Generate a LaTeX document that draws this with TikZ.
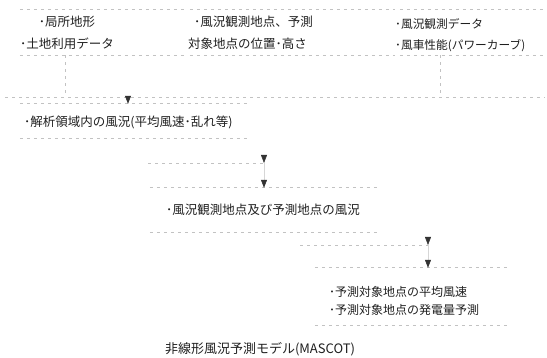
\documentclass[tikz,border=0pt]{standalone}
\usepackage{fontspec}
\newfontfamily\jp{Noto Sans CJK JP}
\usetikzlibrary{arrows.meta}
\begin{document}
\begin{tikzpicture}[x=1pt,y=-1pt,
 faint/.style={draw=black!24, dash pattern=on 3pt off 4pt, line width=0.6pt},
 tipline/.style={-{Triangle[width=6pt,length=8pt,color=black!80]}, draw=black!16, line width=0.5pt},
 lbl/.style={font=\jp\fontsize{12.5}{22}\selectfont, text=black!88, inner sep=0pt},
 frame/.style={draw=none, inner sep=0pt}]
\useasboundingbox (0,0) rectangle (547,358);

% boxes
\node[frame, minimum width=165pt, minimum height=45pt] (A) at (102.5,32.5) {};
\node[frame, minimum width=205pt, minimum height=45pt] (B) at (292.5,32.5) {};
\node[frame, minimum width=145pt, minimum height=45pt] (C) at (472.5,32.5) {};
\node[frame, minimum width=230pt, minimum height=34pt] (b1) at (135,121) {};
\node[frame, minimum width=230pt, minimum height=44pt] (b2) at (265,210) {};
\node[frame, minimum width=195pt, minimum height=57pt] (b3) at (412.5,296.5) {};
\foreach \b in {A,B,C,b1,b2,b3} {
  \draw[faint] (\b.north west) -- (\b.north east);
  \draw[faint] (\b.south west) -- (\b.south east);
}

% texts
\node[lbl, align=center] (tA) at (67,33) {･局所地形\\･土地利用データ};
\node[lbl, align=left, anchor=west] (tB) at (188,33) {\hspace{6pt}･風況観測地点、予測\\対象地点の位置･高さ};
\node[lbl, align=left, anchor=west, font=\jp\fontsize{11.7}{21}\selectfont] (tC) at (395,35) {･風況観測データ\\･風車性能(パワーカーブ)};
\node[lbl, anchor=west] (t1) at (24,122) {･解析領域内の風況(平均風速･乱れ等)};
\node[lbl, anchor=west] (t2) at (166,210) {･風況観測地点及び予測地点の風況};
\node[lbl, align=left, anchor=west, font=\jp\fontsize{12}{18}\selectfont] (t3) at (329,301) {･予測対象地点の平均風速\\･予測対象地点の発電量予測};
\node[lbl, font=\jp\fontsize{13}{15}\selectfont] (title) at (260,349) {非線形風況予測モデル(MASCOT)};

% merge line and connectors
\coordinate (m1) at (5,97);
\coordinate (m2) at (545,97);
\draw[faint] (m1) -- (m2);
\draw[faint] ([xshift=-37.5pt]A.south) -- ([xshift=-37.5pt]A.south |- m1);
\draw[faint] ([xshift=-32.5pt]C.south) -- ([xshift=-32.5pt]C.south |- m1);
\draw[tipline] ([xshift=-7pt]b1.north |- m1) -- ([xshift=-7pt]b1.north);

% box1 -> box2
\coordinate (j1) at (148,163);
\coordinate (j2) at (264,163);
\coordinate (j2t) at (264,155);
\draw[faint] (j1) -- (j2);
\draw[tipline] (j2t) -- (j2);
\draw[tipline] (j2) -- (b2.north -| j2);

% box2 -> box3
\coordinate (k1) at (300,245);
\coordinate (k2) at (428,245);
\coordinate (k2t) at (428,237);
\draw[faint] (k1) -- (k2);
\draw[tipline] (k2t) -- (k2);
\draw[tipline] (k2) -- (b3.north -| k2);
\end{tikzpicture}
\end{document}
